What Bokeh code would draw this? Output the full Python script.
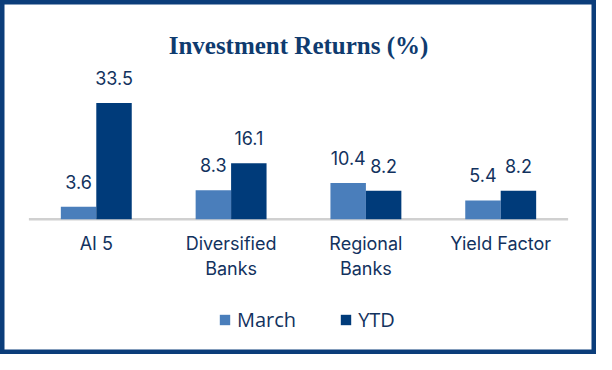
from bokeh.plotting import figure
from bokeh.models import ColumnDataSource, FactorRange, Range1d, Label, Legend, LegendItem
from bokeh.transform import dodge
from bokeh.core.properties import value
from bokeh.embed import file_html
from bokeh.resources import INLINE

# ---- data ----
categories = ["AI 5", "Diversified Banks", "Regional Banks", "Yield Factor"]
tick_labels = ["AI 5", "Diversified\nBanks", "Regional\nBanks", "Yield Factor"]
march = [3.6, 8.3, 10.4, 5.4]
ytd = [33.5, 16.1, 8.2, 8.2]
series_names = ["March", "YTD"]
title_text = "Investment Returns (%)"

# ---- style ----
C_MARCH = "#4A7EBB"
C_YTD = "#003B7A"
C_TEXT = "#12325E"
C_TITLE = "#0F3B6F"
C_BORDER = "#0B3D7A"
LABEL_FONT = "Inter"

W, H = 596, 354

p = figure(
    width=W, height=H,
    x_range=FactorRange(*categories, range_padding=0.1053, range_padding_units="percent"),
    y_range=Range1d(-39.0, 63.0),
    x_axis_location=None, y_axis_location=None,
    toolbar_location=None, output_backend="svg",
    min_border=0, min_border_left=0, min_border_right=0,
    min_border_top=0, min_border_bottom=0,
)
p.grid.visible = False
p.background_fill_color = "white"
p.border_fill_color = "white"
p.outline_line_color = C_BORDER
p.outline_line_width = 8

src = ColumnDataSource(dict(
    cat=categories,
    tick=tick_labels,
    march=march,
    ytd=ytd,
    zero=[0] * len(categories),
    march_txt=[f"{v:.1f}" for v in march],
    ytd_txt=[f"{v:.1f}" for v in ytd],
))

off = 0.1315
bw = 0.263

# baseline
base = ColumnDataSource(dict(x0=[categories[0]], x1=[categories[-1]], y=[0]))
p.segment(x0=dodge("x0", -0.5, range=p.x_range), x1=dodge("x1", 0.5, range=p.x_range),
          y0="y", y1="y", source=base, line_color="#D0D0D0", line_width=2.5)

r_m = p.vbar(x=dodge("cat", -off, range=p.x_range), top="march", width=bw, source=src,
             fill_color=C_MARCH, line_color=None)
r_y = p.vbar(x=dodge("cat", off, range=p.x_range), top="ytd", width=bw, source=src,
             fill_color=C_YTD, line_color=None)

# value labels
for col, txt, o in (("march", "march_txt", -off), ("ytd", "ytd_txt", off)):
    p.text(x=dodge("cat", o, range=p.x_range), y=col, text=txt, source=src,
           text_align="center", text_baseline="alphabetic", y_offset=-25,
           text_font=value(LABEL_FONT), text_font_size="18px", text_color=C_TEXT)

# category labels
p.text(x="cat", y="zero", text="tick", source=src,
       text_align="center", text_baseline="top", y_offset=14, line_height=1.2,
       text_font=value(LABEL_FONT), text_font_size="18px", text_color=C_TEXT)

# title
p.add_layout(Label(x=W / 2, y=309, x_units="screen", y_units="screen", text=title_text,
                   text_align="center", text_baseline="alphabetic",
                   text_font="Liberation Serif", text_font_style="bold",
                   text_font_size="25px", text_color=C_TITLE))

legend = Legend(
    items=[LegendItem(label=series_names[0], renderers=[r_m]),
           LegendItem(label=series_names[1], renderers=[r_y])],
    orientation="horizontal", location=(218, 21),
    border_line_alpha=0, background_fill_alpha=0,
    padding=0, margin=0, spacing=43, label_standoff=6,
    glyph_width=13, glyph_height=13, label_height=13,
    label_text_font="Open Sans", label_text_font_size="20px", label_text_color=C_TEXT,
)
p.add_layout(legend, "center")

open("out.html", "w").write(file_html(p, INLINE))
